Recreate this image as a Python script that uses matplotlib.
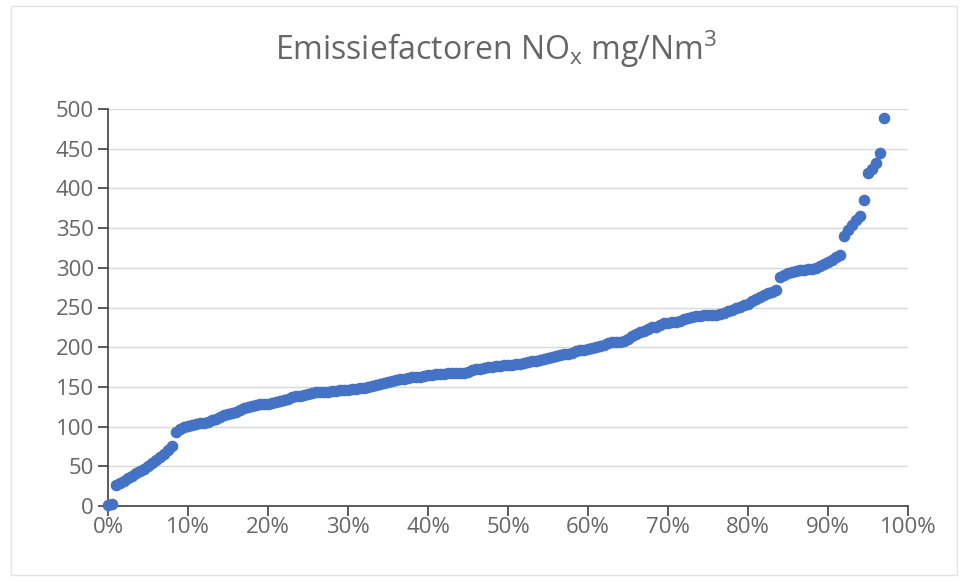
import matplotlib.pyplot as plt
from matplotlib.patches import Rectangle
from matplotlib.ticker import PercentFormatter

plt.rcParams['font.family'] = ['Open Sans', 'DejaVu Sans']
plt.rcParams['mathtext.default'] = 'regular'

nox = [
    1, 2, 26, 29, 32, 35, 38, 41, 44, 47,
    50, 54, 58, 62, 66, 70, 76, 93, 97, 100,
    101, 102, 103, 104, 105, 106, 108, 110, 112, 114,
    116, 117, 119, 121, 123, 125, 126, 127, 128, 128,
    129, 130, 131, 132, 133, 135, 137, 138, 139, 140,
    141, 142, 143, 143, 144, 144, 145, 145, 146, 146,
    146, 147, 147, 148, 149, 150, 151, 152, 154, 155,
    156, 158, 159, 160, 160, 161, 162, 162, 163, 164,
    165, 165, 166, 166, 166, 167, 167, 167, 168, 168,
    169, 171, 172, 173, 174, 175, 175, 176, 176, 177,
    178, 178, 179, 179, 180, 181, 182, 183, 184, 185,
    187, 188, 189, 190, 191, 192, 193, 195, 196, 197,
    198, 199, 200, 202, 203, 205, 206, 207, 207, 208,
    210, 214, 217, 219, 221, 223, 225, 226, 228, 230,
    231, 232, 232, 233, 235, 237, 238, 239, 239, 240,
    240, 240, 241, 242, 243, 245, 247, 249, 251, 253,
    255, 258, 261, 263, 266, 268, 270, 272, 288, 291,
    293, 295, 296, 297, 297, 298, 298, 300, 302, 305,
    307, 310, 313, 316, 340, 347, 354, 360, 365, 386,
    420, 425, 432, 445, 489,
]
n_total = 200
pct = [i / n_total for i in range(len(nox))]

blue = '#4472C4'
grey_text = '#666666'

fig = plt.figure(figsize=(9.68, 5.81), dpi=100)
ax = fig.add_axes([108 / 968, 1 - 506 / 581, 800 / 968, 397 / 581])

ax.scatter(pct, nox, s=70, color=blue, zorder=3, clip_on=False, linewidths=0)

ax.set_xlim(0, 1)
ax.set_ylim(0, 500)
ax.set_xticks([i / 10 for i in range(11)])
ax.set_yticks(range(0, 501, 50))
ax.xaxis.set_major_formatter(PercentFormatter(1.0, decimals=0))

ax.grid(axis='y', color='#D9D9D9', linewidth=1)
ax.set_axisbelow(True)
for side in ['top', 'right']:
    ax.spines[side].set_visible(False)
for side in ['left', 'bottom']:
    ax.spines[side].set_color('#404040')
    ax.spines[side].set_linewidth(1.2)
ax.tick_params(axis='both', direction='out', length=7, width=1.2, color='#404040',
               labelcolor=grey_text, labelsize=16)
ax.tick_params(axis='x', pad=1)
ax.tick_params(axis='y', pad=3)

fig.text(0.512, 0.915, r'Emissiefactoren NO$_{x}$ mg/Nm$^{3}$',
         ha='center', va='center', fontsize=23, color=grey_text)

fig.patches.append(Rectangle((11 / 968, 6 / 581), 946 / 968, 569 / 581,
                             transform=fig.transFigure, fill=False,
                             edgecolor='#E3E3E3', linewidth=1))

fig.savefig('out.png', dpi=100)
